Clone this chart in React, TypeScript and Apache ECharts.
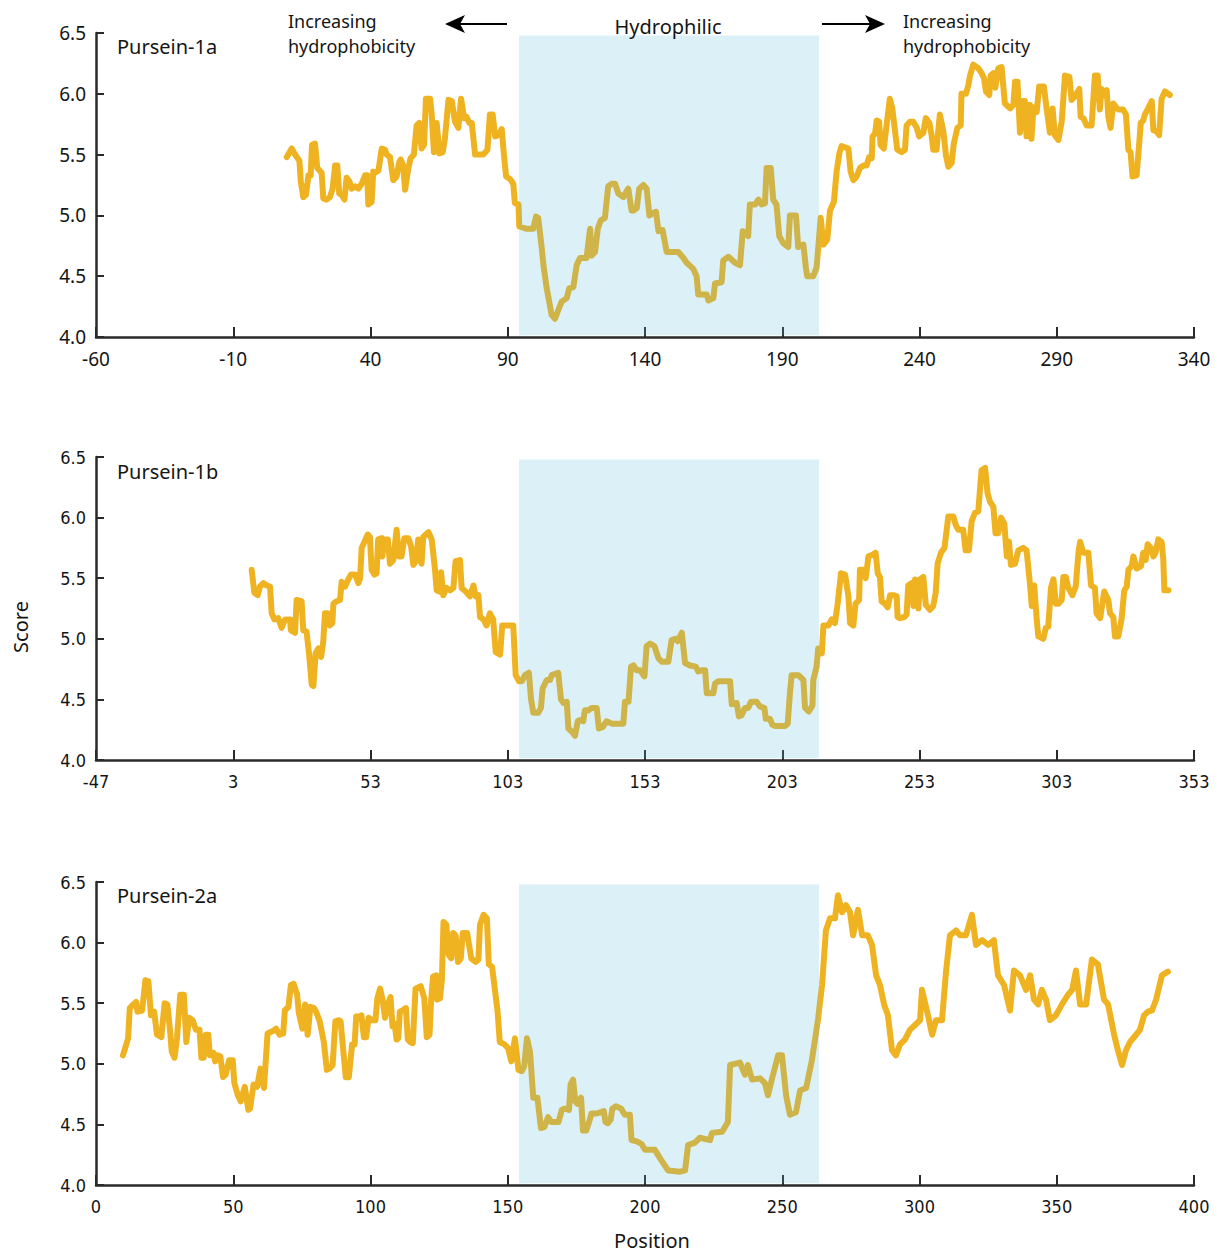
import React, { useEffect, useRef } from "react";
import * as echarts from "echarts";

// Hydrophobicity score profiles: [position, score]
const pursein1a: [number, number][] = [
  [9.5,5.48],[11.3,5.55],[12.5,5.50],[14.1,5.45],[14.6,5.28],[15.5,5.15],[16.5,5.17],[17.4,5.33],[18.2,5.33],[18.7,5.58],[19.8,5.59],[20.6,5.39],[22.2,5.35],[22.8,5.14],[24.0,5.13],[25.2,5.15],[26.2,5.22],[27.1,5.41],[27.9,5.41],[28.6,5.18],[29.5,5.17],[30.5,5.13],[31.3,5.31],[32.3,5.28],[33.1,5.22],[34.4,5.24],[35.6,5.22],[36.8,5.26],[38.0,5.33],[38.8,5.33],[39.2,5.09],[40.4,5.11],[41.0,5.36],[41.6,5.35],[42.9,5.37],[44.1,5.55],[45.3,5.54],[45.9,5.50],[47.1,5.48],[48.3,5.29],[49.5,5.32],[50.5,5.44],[51.0,5.46],[51.9,5.41],[52.6,5.21],[53.8,5.39],[54.6,5.47],[55.8,5.50],[56.8,5.74],[57.8,5.76],[58.6,5.55],[59.5,5.58],[60.2,5.96],[61.7,5.96],[62.3,5.83],[63.1,5.52],[64.1,5.76],[65.1,5.51],[66.3,5.52],[67.1,5.63],[68.4,5.95],[69.6,5.94],[70.8,5.77],[72.0,5.72],[73.0,5.96],[74.1,5.80],[75.0,5.81],[76.0,5.76],[76.9,5.76],[78.1,5.50],[79.6,5.50],[81.1,5.50],[82.6,5.54],[83.5,5.83],[84.5,5.83],[85.4,5.65],[86.6,5.66],[87.8,5.71],[88.6,5.50],[89.4,5.32],[90.8,5.30],[92.0,5.26],[92.6,5.10],[93.9,5.09],[94.2,4.91],[96.9,4.89],[99.3,4.89],[100.3,4.99],[101.1,4.98],[102.4,4.73],[103.0,4.59],[104.2,4.40],[106.0,4.18],[107.2,4.15],[108.4,4.22],[109.6,4.29],[111.5,4.32],[112.4,4.40],[113.9,4.41],[115.1,4.59],[116.3,4.65],[118.7,4.65],[120.0,4.89],[120.6,4.67],[121.8,4.70],[122.8,4.89],[123.9,4.96],[125.4,4.98],[126.6,5.24],[127.9,5.26],[129.1,5.26],[130.3,5.18],[132.1,5.15],[133.3,5.20],[133.9,5.22],[135.1,5.04],[135.8,5.04],[137.0,5.06],[137.9,5.22],[139.4,5.25],[140.6,5.22],[141.6,5.00],[143.0,5.02],[144.0,5.03],[144.9,4.87],[146.4,4.88],[147.9,4.70],[152.1,4.70],[154.0,4.65],[155.2,4.61],[157.6,4.56],[158.8,4.50],[159.4,4.35],[162.5,4.35],[163.1,4.30],[164.9,4.32],[165.5,4.44],[167.9,4.45],[168.5,4.63],[170.4,4.66],[172.8,4.61],[174.6,4.59],[175.6,4.87],[177.6,4.83],[178.2,5.09],[180.1,5.09],[181.3,5.13],[182.5,5.09],[183.7,5.10],[184.3,5.39],[185.8,5.39],[186.7,5.13],[187.9,5.09],[188.9,4.83],[190.4,4.77],[192.2,4.74],[192.8,5.00],[195.0,5.00],[195.8,4.74],[197.7,4.76],[198.6,4.57],[199.1,4.50],[201.3,4.50],[202.5,4.57],[203.1,4.73],[204.0,4.98],[205.0,4.76],[206.4,4.80],[207.4,5.04],[208.8,5.11],[209.8,5.36],[210.8,5.51],[211.6,5.57],[214.1,5.55],[214.9,5.36],[215.9,5.29],[217.1,5.32],[218.3,5.39],[219.5,5.41],[220.7,5.41],[221.7,5.48],[222.6,5.47],[222.9,5.65],[223.8,5.67],[224.4,5.78],[225.3,5.77],[225.8,5.58],[227.0,5.55],[228.0,5.74],[229.2,5.96],[230.1,5.88],[231.1,5.69],[231.9,5.54],[233.5,5.52],[234.7,5.54],[235.3,5.74],[236.5,5.77],[237.7,5.77],[239.0,5.72],[239.9,5.65],[241.4,5.68],[242.3,5.80],[243.6,5.76],[244.4,5.66],[245.0,5.54],[246.2,5.54],[247.4,5.83],[248.7,5.69],[249.6,5.50],[250.5,5.40],[251.7,5.43],[252.5,5.59],[253.8,5.72],[255.0,5.74],[255.3,6.00],[256.9,6.00],[257.8,6.07],[258.4,6.15],[259.6,6.24],[261.4,6.21],[262.6,6.17],[263.5,6.13],[264.2,6.02],[265.4,5.99],[265.9,6.15],[266.9,6.17],[267.6,6.05],[268.7,6.21],[269.9,6.22],[271.1,5.92],[273.0,5.88],[274.2,5.91],[274.8,6.10],[275.7,6.10],[276.6,5.68],[277.8,5.94],[278.4,5.94],[279.0,5.65],[280.2,5.91],[280.8,5.63],[281.5,5.89],[282.7,5.85],[283.6,6.06],[285.3,6.06],[286.3,5.88],[287.5,5.68],[288.5,5.88],[289.3,5.66],[290.6,5.62],[291.8,5.77],[293.0,6.15],[294.6,6.14],[295.4,5.95],[296.6,5.98],[298.2,6.04],[298.7,5.81],[299.7,5.80],[300.9,5.74],[302.7,5.74],[303.9,6.15],[304.9,6.15],[305.7,5.87],[306.3,6.04],[307.3,5.99],[308.2,6.03],[308.8,5.81],[309.6,5.72],[310.6,5.92],[311.6,5.89],[312.4,5.87],[314.2,5.87],[315.2,5.83],[316.1,5.54],[316.9,5.52],[317.6,5.32],[319.1,5.33],[320.1,5.61],[320.6,5.76],[321.5,5.78],[322.1,5.83],[323.3,5.88],[324.6,5.94],[325.2,5.70],[326.4,5.69],[327.3,5.66],[328.2,5.96],[329.4,6.02],[331.2,5.99],
];

const pursein1b: [number, number][] = [
  [9.7,5.57],[10.7,5.38],[11.9,5.36],[12.7,5.43],[14.0,5.46],[15.2,5.44],[16.4,5.43],[17.0,5.21],[18.0,5.16],[19.4,5.17],[20.6,5.09],[21.9,5.16],[23.7,5.16],[24.0,5.07],[25.5,5.05],[26.1,5.32],[27.9,5.31],[28.5,5.07],[29.7,5.06],[30.6,4.88],[31.6,4.62],[32.2,4.61],[33.0,4.88],[34.0,4.92],[35.0,4.85],[35.8,4.98],[36.4,5.21],[37.4,5.21],[38.2,5.11],[39.1,5.13],[39.5,5.29],[40.7,5.31],[41.9,5.32],[42.5,5.47],[43.7,5.43],[44.9,5.49],[45.9,5.53],[47.4,5.53],[48.6,5.46],[49.2,5.50],[49.8,5.75],[50.8,5.80],[52.0,5.86],[52.8,5.84],[53.4,5.57],[54.4,5.53],[55.2,5.54],[55.8,5.82],[57.1,5.83],[57.3,5.68],[58.0,5.82],[59.3,5.82],[60.1,5.62],[61.3,5.65],[62.5,5.90],[63.4,5.68],[64.3,5.68],[65.3,5.83],[66.8,5.83],[67.8,5.76],[68.6,5.61],[69.5,5.64],[70.4,5.82],[71.6,5.62],[72.2,5.84],[74.1,5.88],[75.3,5.82],[76.5,5.57],[77.1,5.40],[78.0,5.39],[78.7,5.55],[79.5,5.36],[80.7,5.42],[82.0,5.40],[83.2,5.42],[84.0,5.64],[85.6,5.65],[86.2,5.42],[87.7,5.39],[89.2,5.35],[90.5,5.44],[91.3,5.35],[92.3,5.36],[92.9,5.18],[94.1,5.16],[95.3,5.11],[96.5,5.21],[97.7,5.16],[98.6,4.89],[100.2,4.87],[101.0,5.11],[102.6,5.11],[105.0,5.11],[105.4,4.93],[105.9,4.70],[107.1,4.65],[108.1,4.65],[109.3,4.70],[110.7,4.72],[111.5,4.50],[112.3,4.39],[114.1,4.39],[115.1,4.43],[115.7,4.59],[117.2,4.66],[118.4,4.66],[119.0,4.70],[121.4,4.72],[122.4,4.50],[123.3,4.47],[124.5,4.48],[125.1,4.26],[126.5,4.23],[127.5,4.20],[128.5,4.32],[129.3,4.33],[130.5,4.32],[131.1,4.41],[132.4,4.41],[133.6,4.43],[135.4,4.43],[136.2,4.26],[137.5,4.27],[139.0,4.32],[140.9,4.30],[142.7,4.30],[145.1,4.30],[145.7,4.48],[147.0,4.48],[147.9,4.77],[148.8,4.78],[150.0,4.74],[151.2,4.74],[152.8,4.69],[153.6,4.94],[154.8,4.96],[156.4,4.94],[157.9,4.84],[159.1,4.81],[161.5,4.81],[162.7,4.99],[164.0,5.00],[164.9,4.98],[166.4,5.05],[167.6,4.80],[169.4,4.78],[171.5,4.77],[172.4,4.73],[173.6,4.74],[174.9,4.74],[175.5,4.55],[177.9,4.55],[178.5,4.63],[179.7,4.65],[181.5,4.65],[184.0,4.65],[184.6,4.46],[186.4,4.47],[187.2,4.36],[188.2,4.37],[189.4,4.43],[190.6,4.43],[191.6,4.48],[193.7,4.48],[194.9,4.44],[196.5,4.43],[197.0,4.34],[198.5,4.34],[199.4,4.29],[200.4,4.28],[204.0,4.28],[205.0,4.30],[205.8,4.55],[206.4,4.70],[208.9,4.70],[210.7,4.66],[211.3,4.43],[212.7,4.40],[214.0,4.45],[214.3,4.66],[215.5,4.77],[216.1,4.92],[217.4,4.88],[218.0,5.11],[219.8,5.11],[221.0,5.16],[222.2,5.13],[223.2,5.29],[224.4,5.54],[225.9,5.53],[227.1,5.35],[227.7,5.13],[228.9,5.11],[229.7,5.29],[231.0,5.32],[231.3,5.57],[232.5,5.57],[233.4,5.50],[234.4,5.68],[235.6,5.69],[237.0,5.71],[237.8,5.54],[238.6,5.51],[239.2,5.31],[240.4,5.29],[241.4,5.26],[242.3,5.36],[243.5,5.36],[244.7,5.35],[245.0,5.18],[245.9,5.17],[247.5,5.18],[248.3,5.20],[248.9,5.44],[250.1,5.46],[250.8,5.27],[251.4,5.49],[252.6,5.25],[253.2,5.49],[254.4,5.51],[255.3,5.28],[256.8,5.24],[258.0,5.27],[258.9,5.38],[259.6,5.62],[260.8,5.71],[262.1,5.75],[263.5,6.01],[265.3,6.01],[266.2,5.94],[267.1,5.90],[268.9,5.90],[269.8,5.73],[271.0,5.73],[272.0,5.97],[273.2,6.04],[274.4,6.05],[275.6,6.39],[276.9,6.41],[277.8,6.20],[278.7,6.13],[279.9,6.09],[280.7,5.87],[281.7,5.87],[282.7,6.00],[283.9,5.95],[284.8,5.68],[285.6,5.80],[286.3,5.61],[287.8,5.62],[289.0,5.73],[290.8,5.75],[292.0,5.73],[293.3,5.44],[293.9,5.27],[294.8,5.44],[295.7,5.16],[296.3,5.02],[298.1,5.00],[299.0,5.09],[299.9,5.10],[300.9,5.42],[301.8,5.49],[302.7,5.29],[303.6,5.29],[304.8,5.32],[305.4,5.51],[306.3,5.51],[307.2,5.42],[308.7,5.36],[309.9,5.43],[310.9,5.71],[311.5,5.80],[312.7,5.71],[314.5,5.71],[315.5,5.44],[316.9,5.42],[317.5,5.21],[318.8,5.17],[320.3,5.39],[321.8,5.32],[322.4,5.21],[323.6,5.18],[324.2,5.02],[325.4,5.02],[326.6,5.16],[327.6,5.40],[328.5,5.43],[329.1,5.57],[330.3,5.60],[330.9,5.68],[332.1,5.58],[333.7,5.60],[334.5,5.71],[335.4,5.65],[336.1,5.78],[337.3,5.75],[338.2,5.68],[339.0,5.71],[340.0,5.82],[341.2,5.80],[341.8,5.66],[342.2,5.40],[343.7,5.40],
];

const pursein2a: [number, number][] = [
  [9.8,5.07],[11.7,5.21],[12.3,5.46],[13.6,5.49],[14.6,5.51],[15.1,5.43],[16.8,5.44],[18.0,5.69],[19.1,5.68],[20.0,5.40],[21.2,5.43],[22.2,5.24],[23.8,5.22],[25.0,5.50],[26.0,5.49],[27.0,5.27],[27.6,5.10],[28.6,5.05],[29.5,5.21],[30.7,5.57],[32.0,5.57],[32.9,5.18],[33.9,5.38],[35.2,5.36],[36.4,5.28],[37.7,5.28],[38.4,5.05],[39.2,5.05],[40.0,5.24],[40.9,5.24],[41.5,5.07],[42.8,5.09],[43.4,5.02],[44.3,5.07],[45.3,5.06],[46.3,4.89],[47.2,4.91],[48.5,5.03],[49.8,5.03],[50.4,4.84],[51.7,4.74],[52.7,4.69],[54.2,4.81],[55.5,4.62],[56.1,4.63],[57.4,4.83],[58.7,4.81],[59.9,4.96],[61.2,4.80],[62.5,5.25],[64.4,5.27],[65.6,5.29],[66.9,5.24],[68.2,5.25],[68.8,5.44],[70.1,5.47],[71.0,5.65],[72.0,5.66],[73.3,5.57],[73.9,5.42],[75.2,5.29],[76.2,5.49],[77.1,5.24],[78.1,5.47],[79.4,5.46],[80.2,5.43],[81.5,5.35],[82.2,5.27],[83.0,5.18],[84.1,4.95],[85.0,4.96],[86.2,4.99],[87.2,5.35],[88.5,5.36],[89.1,5.35],[90.0,5.13],[91.0,4.89],[92.1,4.89],[93.3,5.16],[94.2,5.16],[94.8,5.39],[96.1,5.39],[96.7,5.40],[97.6,5.22],[98.4,5.22],[99.3,5.38],[100.6,5.36],[101.8,5.36],[102.5,5.54],[103.5,5.62],[104.4,5.53],[105.3,5.38],[106.3,5.49],[107.3,5.55],[108.0,5.31],[108.8,5.33],[109.5,5.20],[110.1,5.21],[110.7,5.43],[111.6,5.44],[112.9,5.46],[113.6,5.20],[114.5,5.18],[115.4,5.17],[116.4,5.62],[118.3,5.64],[119.6,5.54],[120.5,5.22],[121.5,5.24],[122.1,5.53],[122.8,5.72],[124.0,5.73],[124.3,5.53],[125.3,5.54],[126.0,5.69],[126.6,6.17],[127.6,6.15],[128.5,5.90],[129.4,5.87],[130.1,6.08],[131.0,6.06],[131.9,5.84],[132.9,5.87],[133.6,6.08],[135.2,6.08],[136.7,5.87],[138.3,5.84],[139.3,5.86],[139.9,6.15],[141.2,6.23],[142.4,6.20],[143.1,5.82],[144.3,5.80],[146.3,5.43],[147.1,5.18],[148.8,5.16],[150.1,5.13],[151.3,5.02],[152.6,5.21],[153.9,4.95],[155.1,4.94],[156.0,4.98],[157.0,5.21],[158.1,5.10],[159.3,4.72],[160.8,4.72],[162.1,4.47],[163.4,4.48],[164.7,4.56],[165.9,4.52],[168.5,4.52],[169.7,4.62],[170.8,4.63],[172.3,4.62],[172.9,4.83],[173.8,4.87],[174.6,4.69],[175.4,4.67],[176.7,4.72],[177.4,4.45],[178.6,4.45],[179.9,4.54],[180.5,4.59],[182.4,4.59],[185.0,4.61],[185.6,4.52],[186.5,4.51],[187.5,4.54],[188.1,4.63],[189.4,4.65],[191.3,4.63],[192.6,4.58],[194.5,4.58],[195.1,4.37],[197.0,4.36],[198.7,4.34],[200.0,4.29],[203.6,4.29],[205.5,4.22],[208.4,4.12],[212.8,4.11],[214.6,4.12],[215.7,4.33],[218.2,4.35],[220.0,4.39],[223.7,4.37],[224.4,4.43],[228.1,4.44],[230.2,4.52],[231.0,4.99],[234.6,5.01],[236.4,4.91],[237.5,4.99],[239.0,4.87],[241.9,4.88],[243.7,4.84],[244.8,4.74],[246.3,4.88],[248.5,5.07],[249.9,5.07],[251.4,4.74],[252.8,4.58],[255.0,4.60],[256.5,4.78],[258.7,4.80],[260.8,5.03],[263.0,5.36],[264.5,5.65],[265.9,6.10],[267.4,6.20],[269.2,6.20],[270.3,6.39],[271.8,6.25],[273.2,6.31],[274.7,6.25],[275.8,6.06],[277.6,6.27],[279.1,6.06],[281.2,6.06],[282.7,5.98],[284.2,5.73],[285.6,5.65],[287.1,5.49],[288.5,5.40],[290.0,5.11],[291.4,5.07],[292.9,5.16],[294.7,5.20],[296.5,5.28],[298.4,5.32],[300.2,5.36],[300.9,5.61],[303.1,5.40],[304.6,5.24],[306.0,5.36],[308.2,5.36],[309.7,5.77],[311.1,6.06],[313.3,6.10],[314.8,6.06],[316.9,6.06],[319.1,6.23],[320.6,5.98],[322.8,6.02],[325.0,5.98],[327.1,6.02],[328.6,5.73],[330.8,5.65],[333.0,5.44],[334.4,5.77],[336.6,5.73],[338.8,5.61],[340.3,5.73],[341.7,5.53],[343.2,5.49],[344.6,5.61],[346.1,5.53],[347.5,5.36],[349.7,5.40],[351.9,5.49],[354.1,5.57],[355.6,5.61],[357.0,5.77],[358.5,5.49],[360.7,5.49],[362.8,5.86],[365.0,5.82],[367.2,5.53],[368.7,5.49],[370.9,5.24],[372.3,5.11],[373.8,4.99],[375.2,5.11],[376.7,5.18],[378.9,5.24],[380.3,5.28],[381.8,5.40],[383.2,5.43],[384.7,5.44],[386.2,5.53],[388.3,5.73],[390.5,5.76],
];

// Hydrophilic stretch of each protein, [start, end] positions
const hydrophilic1a = [94.1, 203.4];
const hydrophilic1b = [107.1, 216.4];
const hydrophilic2a = [154.1, 263.4];

const names = ["Pursein-1a", "Pursein-1b", "Pursein-2a"];
const xRanges = [[-60, 340], [-47, 353], [0, 400]];
const scoreRange = [4.0, 6.5];
const shadeTop = 6.48;
const shadeBottom = 4.015;

const LINE = "#EFB321";
const AXIS = "#2a2a2a";
const TEXT = "#151515";
const FONT = "Noto Sans";
const NARROW = "DejaVu Sans Condensed";

export default function App() {
  const ref = useRef<HTMLDivElement>(null);

  useEffect(() => {
    if (!ref.current) return;
    const chart = echarts.init(ref.current, undefined, { renderer: "svg" });

    const series = [pursein1a, pursein1b, pursein2a];
    const regions = [hydrophilic1a, hydrophilic1b, hydrophilic2a];
    const tops = [25, 449, 874];
    const heights = [304, 303, 303];

    const grid = tops.map((t, i) => ({ left: 88, top: t, width: 1098, height: heights[i] }));

    const xAxis = xRanges.map((r, i) => ({
      type: "value",
      gridIndex: i,
      min: r[0],
      max: r[1],
      interval: 50,
      axisLine: { show: true, onZero: false, lineStyle: { color: AXIS, width: 2.5 } },
      axisTick: { show: true, inside: true, length: 10, lineStyle: { color: AXIS, width: 2 } },
      axisLabel: {
        fontSize: i === 0 ? 19 : 18,
        margin: 12,
        color: TEXT,
        fontFamily: i === 0 ? FONT : NARROW,
      },
      splitLine: { show: false },
    }));

    const yAxis = xRanges.map((_, i) => ({
      type: "value",
      gridIndex: i,
      min: scoreRange[0],
      max: scoreRange[1],
      interval: 0.5,
      axisLine: { show: true, onZero: false, lineStyle: { color: AXIS, width: 2.5 } },
      axisTick: { show: true, inside: true, length: 8, lineStyle: { color: AXIS, width: 2 } },
      axisLabel: {
        fontSize: i === 0 ? 19 : 18,
        margin: 10,
        color: TEXT,
        fontFamily: i === 0 ? FONT : NARROW,
        formatter: (v: number) => v.toFixed(1),
      },
      splitLine: { show: false },
    }));

    const lines = series.map((d, i) => ({
      type: "line",
      xAxisIndex: i,
      yAxisIndex: i,
      data: d,
      showSymbol: false,
      symbol: "none",
      z: 2,
      lineStyle: { color: LINE, width: 6, join: "round", cap: "round" },
    }));

    // translucent band laid over the profile in the hydrophilic stretch
    const bands = regions.map((r, i) => ({
      type: "line",
      xAxisIndex: i,
      yAxisIndex: i,
      data: [],
      z: 5,
      silent: true,
      markArea: {
        silent: true,
        z: 5,
        itemStyle: { color: "rgba(95,186,223,0.22)" },
        data: [[{ xAxis: r[0], yAxis: shadeBottom }, { xAxis: r[1], yAxis: shadeTop }]],
      },
    }));

    const txt = (x: number, y: number, text: string, align = "left", valign = "middle", extra: any = {}) => ({
      type: "text",
      x,
      y,
      z: 10,
      style: { text, fill: TEXT, font: `20px ${FONT}`, textAlign: align, textVerticalAlign: valign, ...extra },
    });

    const graphic: any[] = [
      txt(280, 0, "Increasing\nhydrophobicity", "left", "top", { lineHeight: 25, font: `18px ${FONT}` }),
      txt(895, 0, "Increasing\nhydrophobicity", "left", "top", { lineHeight: 25, font: `18px ${FONT}` }),
      txt(660, 18, "Hydrophilic", "center"),
      // left arrow
      { type: "line", z: 10, shape: { x1: 499, y1: 16, x2: 452, y2: 16 }, style: { stroke: "#000", lineWidth: 2 } },
      { type: "polygon", z: 10, shape: { points: [[437, 16], [457, 7], [452, 16], [457, 25]] }, style: { fill: "#000" } },
      // right arrow
      { type: "line", z: 10, shape: { x1: 814, y1: 16, x2: 862, y2: 16 }, style: { stroke: "#000", lineWidth: 2 } },
      { type: "polygon", z: 10, shape: { points: [[877, 16], [857, 7], [862, 16], [857, 25]] }, style: { fill: "#000" } },
      txt(109, 38, names[0]),
      txt(109, 463, names[1]),
      txt(109, 887, names[2]),
      { ...txt(12, 619, "Score", "center"), rotation: Math.PI / 2 },
      txt(644, 1232, "Position", "center"),
    ];

    chart.setOption({
      animation: false,
      backgroundColor: "#ffffff",
      grid,
      xAxis,
      yAxis,
      series: [...lines, ...bands],
      graphic,
    } as any);

    return () => chart.dispose();
  }, []);

  return <div ref={ref} style={{ width: 1210, height: 1244 }} />;
}
